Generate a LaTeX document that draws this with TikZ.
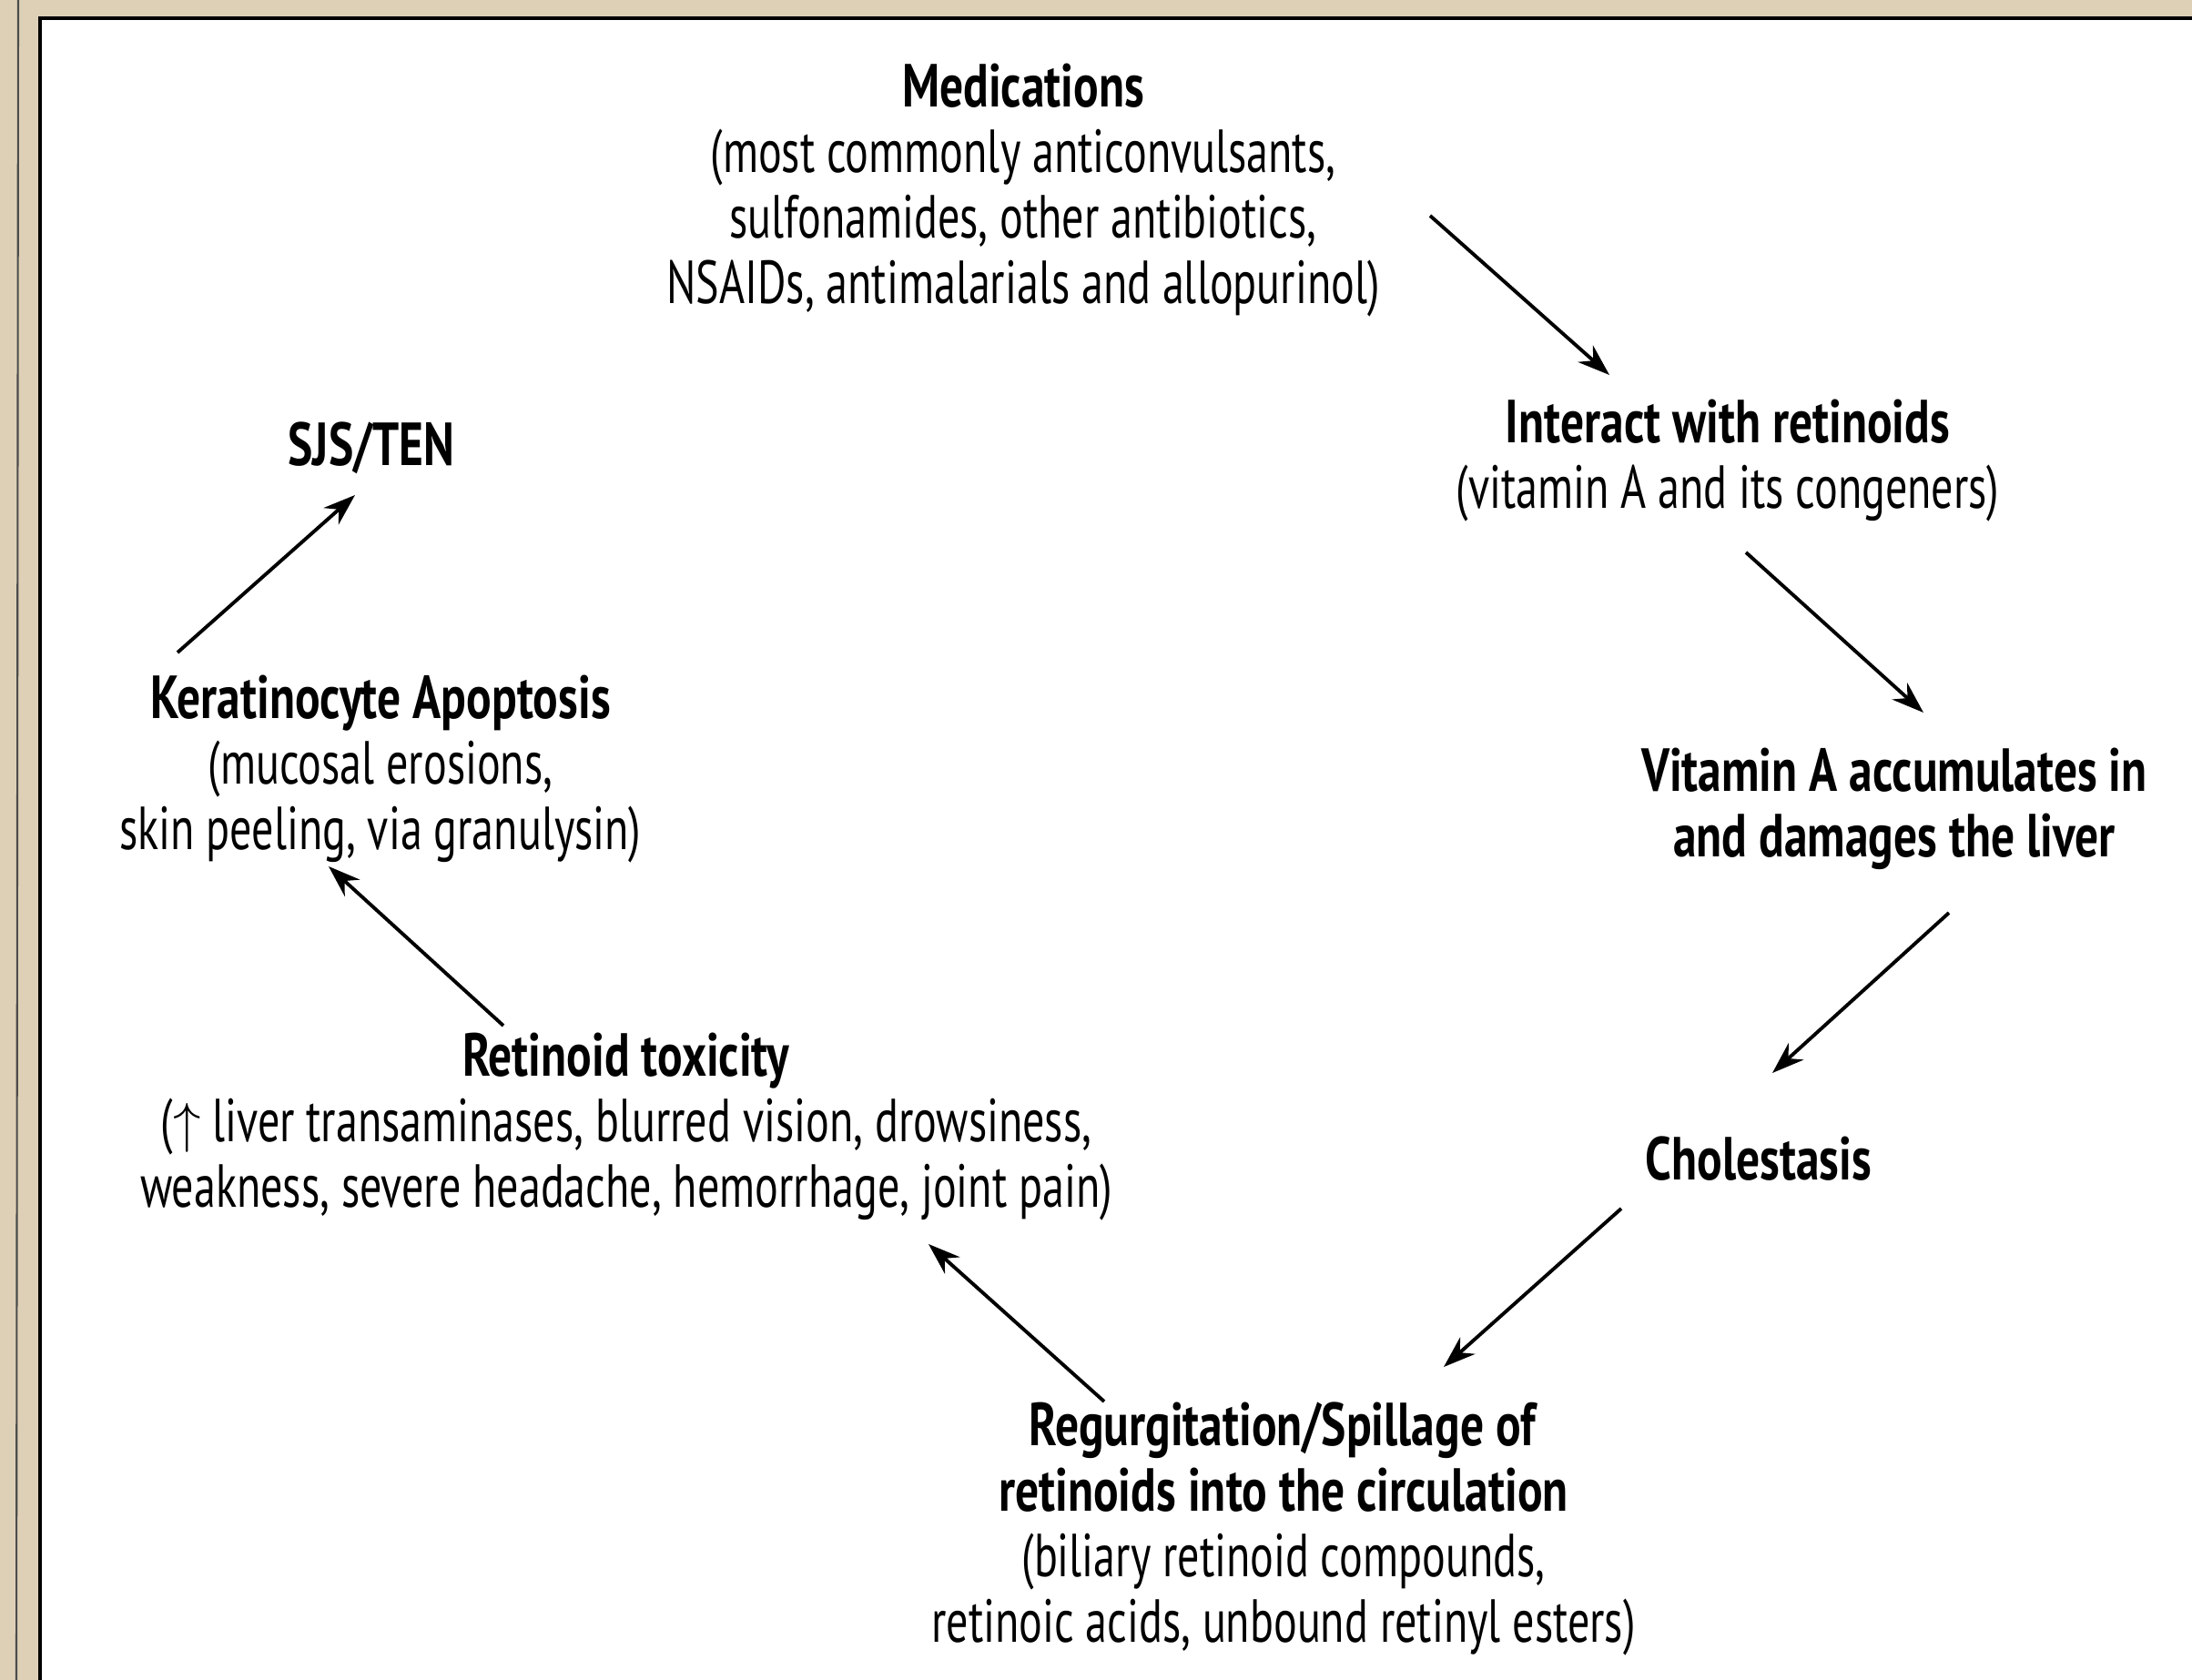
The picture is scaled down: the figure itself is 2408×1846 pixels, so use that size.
\documentclass[tikz,border=0pt]{standalone}
\usepackage{fontspec}
\setmainfont{PT Sans}[FakeStretch=0.72, BoldFeatures={FakeStretch=0.77}]
\usetikzlibrary{arrows.meta}
\definecolor{frame}{RGB}{222,208,182}

\tikzset{
  txt/.style={align=center, inner sep=0pt, font=\fontsize{19}{20.5}\selectfont},
  arr/.style={-{Stealth[length=10pt,width=7pt]}, line width=1.1pt},
}

\begin{document}
\begin{tikzpicture}[x=0.01cm,y=-0.01cm]
  \useasboundingbox (0,0) rectangle (2408,1846);
  % frame
  \fill[frame] (0,0) rectangle (2408,1846);
  \fill[white] (44,20) rectangle (2420,1860);
  \draw[line width=1pt] (44,1860) -- (44,20) -- (2420,20);
  \draw[gray!60!black, line width=0.6pt] (20,0) -- (18,1846);

  \node[txt](meds)   at (1124,209) {\textbf{Medications}\\(most commonly anticonvulsants,\\sulfonamides, other antibiotics,\\NSAIDs, antimalarials and allopurinol)};
  \node[txt](retin)  at (1898,506) {\textbf{Interact with retinoids}\\(vitamin A and its congeners)};
  \node[txt](liver)  at (2081,889) {\textbf{Vitamin A accumulates in}\\\textbf{and damages the liver}};
  \node[txt](chole)  at (1932,1273) {\textbf{Cholestasis}};
  \node[txt](regurg) at (1410,1680) {\textbf{Regurgitation/Spillage of}\\\textbf{retinoids into the circulation}\\(biliary retinoid compounds,\\retinoic acids, unbound retinyl esters)};
  \node[txt](toxic)  at (688,1238) {\textbf{Retinoid toxicity}\\($\uparrow$ liver transaminases, blurred vision, drowsiness,\\weakness, severe headache, hemorrhage, joint pain)};
  \node[txt](kerat)  at (418,845) {\textbf{Keratinocyte Apoptosis}\\(mucosal erosions,\\skin peeling, via granulysin)};
  \node[txt](sjs)    at (408,492) {\textbf{SJS/TEN}};

  \coordinate (meds-out)   at (1571,237);
  \coordinate (retin-in)   at (1768,412);
  \coordinate (retin-out)  at (1918,607);
  \coordinate (liver-in)   at (2113,783);
  \coordinate (liver-out)  at (2141,1003);
  \coordinate (chole-in)   at (1947,1179);
  \coordinate (chole-out)  at (1781,1328);
  \coordinate (regurg-in)  at (1586,1502);
  \coordinate (regurg-out) at (1213,1540);
  \coordinate (toxic-in)   at (1020,1367);
  \coordinate (toxic-out)  at (553,1127);
  \coordinate (kerat-in)   at (361,952);
  \coordinate (kerat-out)  at (195,717);
  \coordinate (sjs-in)     at (390,544);

  \draw[arr] (meds-out)--(retin-in);
  \draw[arr] (retin-out)--(liver-in);
  \draw[arr] (liver-out)--(chole-in);
  \draw[arr] (chole-out)--(regurg-in);
  \draw[arr] (regurg-out)--(toxic-in);
  \draw[arr] (toxic-out)--(kerat-in);
  \draw[arr] (kerat-out)--(sjs-in);
\end{tikzpicture}
\end{document}
